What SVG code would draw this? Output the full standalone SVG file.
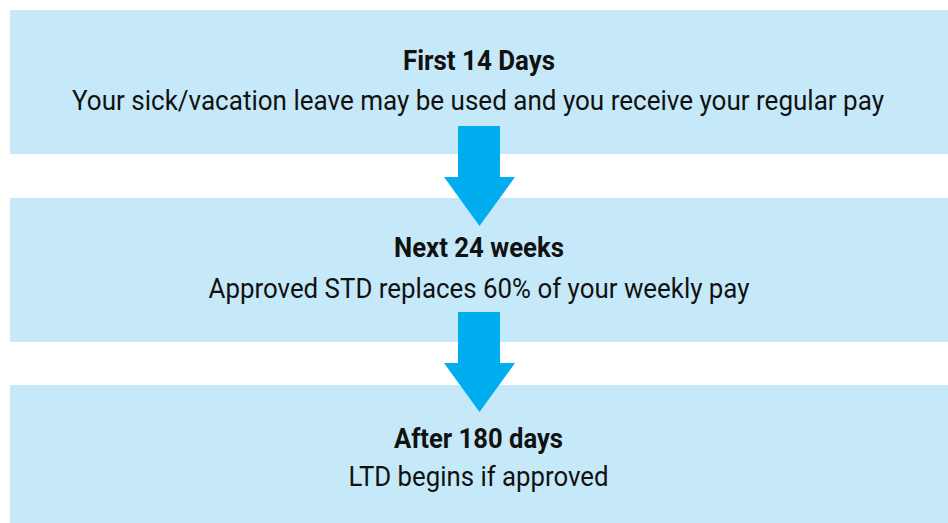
<svg xmlns="http://www.w3.org/2000/svg" width="948" height="523" viewBox="0 0 948 523">
<style>
.box{fill:#C6E9F9;}
.arrow{fill:#00AEEF;}
.t{font-family:Roboto,"Liberation Sans",sans-serif;fill:#111;text-anchor:middle;}
.b{font-weight:bold;font-size:27px;}
.r{font-size:28px;}
</style>
<rect width="948" height="523" fill="#ffffff"/>
<g id="node-first14">
<rect class="box" x="10" y="10" width="938" height="144"/>
<text class="t b" x="479" y="69.5" textLength="152" lengthAdjust="spacingAndGlyphs">First 14 Days</text>
<text class="t r" x="478" y="110" textLength="812" lengthAdjust="spacingAndGlyphs">Your sick/vacation leave may be used and you receive your regular pay</text>
</g>
<g id="node-next24">
<rect class="box" x="10" y="198" width="938" height="144"/>
<text class="t b" x="479" y="257.3" textLength="170" lengthAdjust="spacingAndGlyphs">Next 24 weeks</text>
<text class="t r" x="479" y="298.3" textLength="541" lengthAdjust="spacingAndGlyphs">Approved STD replaces 60% of your weekly pay</text>
</g>
<g id="node-after180">
<rect class="box" x="10" y="385" width="938" height="138"/>
<text class="t b" x="478.5" y="447.7" textLength="169" lengthAdjust="spacingAndGlyphs">After 180 days</text>
<text class="t r" x="478.5" y="485.5" textLength="260" lengthAdjust="spacingAndGlyphs">LTD begins if approved</text>
</g>
<g id="connectors">
<polygon class="arrow" points="458,126 500,126 500,177 515,177 479.5,226 444,177 458,177"/>
<polygon class="arrow" points="458,312 500,312 500,363 515,363 479.5,412 444,363 458,363"/>
</g>
</svg>
